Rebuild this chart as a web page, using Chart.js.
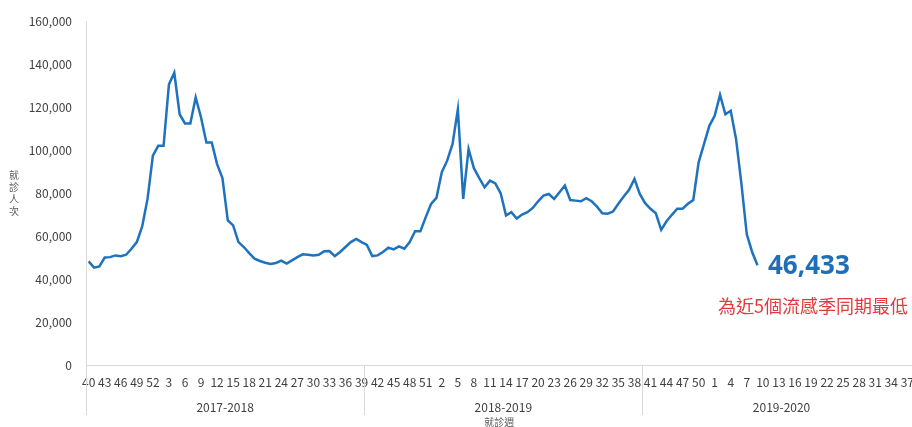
<!DOCTYPE html>
<html>
<head>
<meta charset="utf-8">
<script src="https://cdn.jsdelivr.net/npm/chart.js@4"></script>
<style>
  html, body { margin: 0; padding: 0; background: #fff; overflow: hidden; }
  #wrap { position: absolute; left: 0; top: 0; width: 928px; height: 427px; }
</style>
</head>
<body>
<div id="wrap"><canvas id="chartCanvas"></canvas></div>
<script>
// Data
var seasons = ["2017-2018", "2018-2019", "2019-2020"];
var seasonWeeks = [40, 41, 42, 43, 44, 45, 46, 47, 48, 49, 50, 51, 52,
	1, 2, 3, 4, 5, 6, 7, 8, 9, 10, 11, 12, 13, 14, 15, 16, 17, 18, 19, 20,
	21, 22, 23, 24, 25, 26, 27, 28, 29, 30, 31, 32, 33, 34, 35, 36, 37, 38, 39];
var weekLabels = seasonWeeks.concat(seasonWeeks, seasonWeeks);
var visits = [
	// 2017-2018
	48200, 45300, 45900, 50000, 50200, 51000, 50600, 51300, 54100, 57200, 64500, 77300, 97400,
	102000, 102000, 130600, 136000, 116700, 112400, 112400, 124500, 115200, 103600, 103600, 93500, 87000,
	67300, 65000, 57200, 54900, 52100, 49500, 48400, 47600, 47000, 47500, 48600, 47200, 48700,
	50200, 51500, 51300, 51000, 51300, 52900, 53000, 50700, 52600, 54900, 57200, 58700, 57200,
	// 2018-2019
	55900, 50700, 51000, 52600, 54600, 53800, 55200, 54100, 57200, 62300, 62300, 68800, 75000,
	77800, 89700, 95100, 102800, 119000, 77300, 100500, 91600, 87000, 82700, 85800, 84500, 79900,
	69600, 71100, 68200, 70000, 71100, 73100, 76200, 78800, 79600, 77300, 80400, 83500, 76800,
	76500, 76200, 77600, 76200, 73700, 70600, 70400, 71400, 75000, 78400, 81500, 86600, 79600,
	// 2019-2020
	75300, 72700, 70600, 62900, 66900, 69900, 72700, 72700, 75000, 76800, 94300, 102800, 111300,
	116000, 125700, 116700, 118300, 105100, 84300, 60800, 52600, 46433
];
var yTicks = [0, 20000, 40000, 60000, 80000, 100000, 120000, 140000, 160000];

var lineColor = "#1f72be";
var axisColor = "#d9d9d9";
var textColor = "#404040";
var cjkFont = "'Noto Sans CJK TC', 'Noto Sans', sans-serif";

var extraAxis = {
	id: "extraAxis",
	afterDraw: function(chart) {
		var ctx = chart.ctx;
		var area = chart.chartArea;
		var x = chart.scales.x;
		var perSeason = seasonWeeks.length;
		var half = x.width / weekLabels.length / 2;
		ctx.save();

		// axis lines running down into the season labels
		ctx.strokeStyle = axisColor;
		ctx.lineWidth = 1;
		ctx.beginPath();
		ctx.moveTo(area.left + 0.5, area.bottom);
		ctx.lineTo(area.left + 0.5, 415);
		for (var s = 1; s < seasons.length; s++) {
			var sx = Math.round(x.getPixelForValue(s * perSeason) - half) + 0.5;
			ctx.moveTo(sx, area.bottom);
			ctx.lineTo(sx, 415);
		}
		ctx.stroke();

		// season labels
		ctx.fillStyle = textColor;
		ctx.font = "12px " + cjkFont;
		ctx.textAlign = "center";
		ctx.textBaseline = "middle";
		for (var i = 0; i < seasons.length; i++) {
			var a = x.getPixelForValue(i * perSeason) - half;
			var b = x.getPixelForValue((i + 1) * perSeason - 1) + half;
			ctx.fillText(seasons[i], (a + b) / 2, 407);
		}

		// axis titles
		ctx.fillStyle = "#595959";
		ctx.font = "10px " + cjkFont;
		ctx.fillText("就診週", (area.left + area.right) / 2 - 4, 422);
		var yTitle = "就診人次";
		for (var j = 0; j < yTitle.length; j++) {
			ctx.fillText(yTitle[j], 14, 175 + j * 12);
		}

		// annotation
		ctx.fillStyle = "#1f6eb8";
		ctx.font = "bold 26px 'Open Sans', sans-serif";
		ctx.textAlign = "left";
		ctx.fillText("46,433", 768, 267);
		ctx.fillStyle = "#e23a3f";
		ctx.font = "18px " + cjkFont;
		ctx.fillText("為近5個流感季同期最低", 718, 306);

		ctx.restore();
	}
};

var chartCtx = document.getElementById("chartCanvas").getContext("2d");
var chart = new Chart(chartCtx, {
	type: "line",
	data: {
		labels: weekLabels,
		datasets: [{
			data: visits,
			borderColor: lineColor,
			borderWidth: 2.5,
			pointRadius: 0,
			tension: 0,
			fill: false
		}]
	},
	options: {
		responsive: true,
		maintainAspectRatio: false,
		animation: false,
		layout: { padding: { top: 20, right: 0, bottom: 0, left: 0 } },
		plugins: {
			legend: { display: false },
			tooltip: { enabled: false }
		},
		scales: {
			x: {
				type: "category",
				offset: true,
				grid: { display: false, drawTicks: false },
				border: { display: true, color: axisColor, width: 1 },
				ticks: {
					autoSkip: false,
					maxRotation: 0,
					minRotation: 0,
					padding: 10,
					color: textColor,
					font: { family: cjkFont, size: 12 },
					callback: function(value, index) {
						return index % 3 === 0 ? String(weekLabels[index]) : "";
					}
				},
				afterFit: function(scale) { scale.height = 62; }
			},
			y: {
				min: 0,
				max: 160000,
				grid: { display: false, drawTicks: false },
				border: { display: true, color: axisColor, width: 1 },
				afterBuildTicks: function(scale) {
					scale.ticks = yTicks.map(function(v) { return { value: v }; });
				},
				ticks: {
					padding: 14,
					color: textColor,
					font: { family: cjkFont, size: 12 },
					callback: function(value) { return value.toLocaleString("en-US"); }
				},
				afterFit: function(scale) { scale.width = 86; }
			}
		}
	},
	plugins: [extraAxis]
});
</script>
</body>
</html>
